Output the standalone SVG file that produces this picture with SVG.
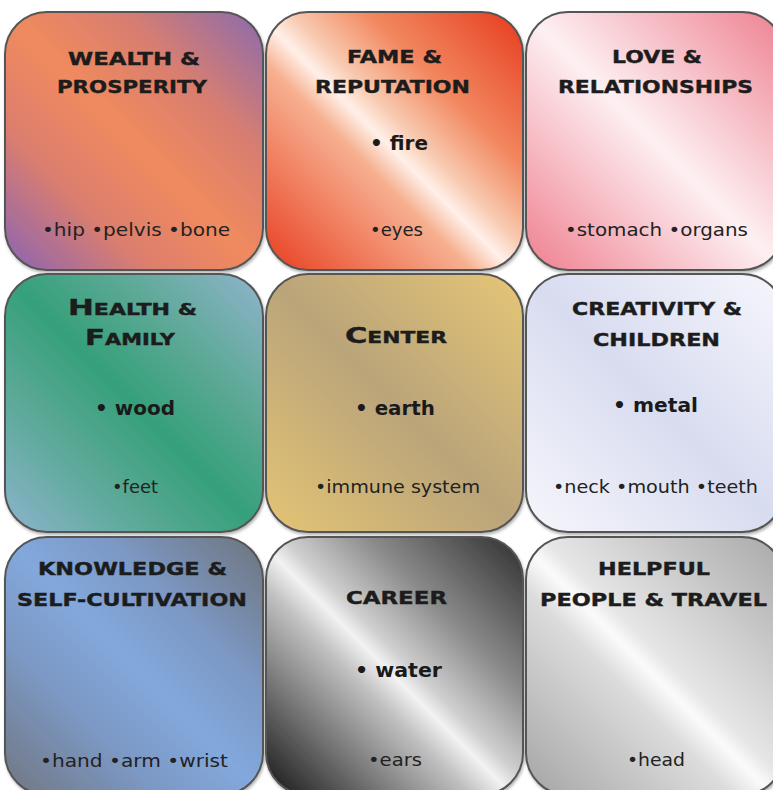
<svg xmlns="http://www.w3.org/2000/svg" width="773" height="790" viewBox="0 0 773 790">
<defs>
<linearGradient id="gWealth" x1="1" y1="0" x2="0" y2="1"><stop offset="0" stop-color="#8a6aae"/><stop offset="0.28" stop-color="#d87e70"/><stop offset="0.5" stop-color="#f08a5e"/><stop offset="0.72" stop-color="#dc7e6e"/><stop offset="1" stop-color="#8a64b4"/></linearGradient>
<linearGradient id="gFame" x1="1" y1="0" x2="0" y2="1"><stop offset="0" stop-color="#e63a1e"/><stop offset="0.3" stop-color="#f2875e"/><stop offset="0.45" stop-color="#f8c8ae"/><stop offset="0.52" stop-color="#fff0e8"/><stop offset="0.6" stop-color="#f6b090"/><stop offset="1" stop-color="#e83e20"/></linearGradient>
<linearGradient id="gLove" x1="1" y1="0" x2="0" y2="1"><stop offset="0" stop-color="#ee8090"/><stop offset="0.5" stop-color="#fdf0f2"/><stop offset="1" stop-color="#ef7f8f"/></linearGradient>
<linearGradient id="gHealth" x1="1" y1="0" x2="0" y2="1"><stop offset="0" stop-color="#90b4cc"/><stop offset="0.3" stop-color="#5aa894"/><stop offset="0.5" stop-color="#35a07a"/><stop offset="0.7" stop-color="#58a894"/><stop offset="1" stop-color="#8cb4cc"/></linearGradient>
<linearGradient id="gCenter" x1="1" y1="0" x2="0" y2="1"><stop offset="0" stop-color="#e6c676"/><stop offset="0.5" stop-color="#baa47a"/><stop offset="1" stop-color="#e4c474"/></linearGradient>
<linearGradient id="gCreat" x1="1" y1="0" x2="0" y2="1"><stop offset="0" stop-color="#f6f6fc"/><stop offset="0.5" stop-color="#d8dcf0"/><stop offset="1" stop-color="#f6f6fb"/></linearGradient>
<linearGradient id="gKnow" x1="1" y1="0" x2="0" y2="1"><stop offset="0" stop-color="#6e737c"/><stop offset="0.3" stop-color="#7c98c4"/><stop offset="0.5" stop-color="#82a8dc"/><stop offset="0.7" stop-color="#7c98c4"/><stop offset="1" stop-color="#707680"/></linearGradient>
<linearGradient id="gCareer" x1="1" y1="0" x2="0" y2="1"><stop offset="0" stop-color="#2e2e2e"/><stop offset="0.3" stop-color="#8a8a8a"/><stop offset="0.47" stop-color="#cfcfcf"/><stop offset="0.52" stop-color="#f2f2f2"/><stop offset="0.6" stop-color="#c0c0c0"/><stop offset="1" stop-color="#141414"/></linearGradient>
<linearGradient id="gHelp" x1="1" y1="0" x2="0" y2="1"><stop offset="0" stop-color="#a8a8a8"/><stop offset="0.47" stop-color="#e6e6e6"/><stop offset="0.52" stop-color="#fbfbfb"/><stop offset="0.6" stop-color="#dcdcdc"/><stop offset="1" stop-color="#a4a4a4"/></linearGradient>
<filter id="sh" x="-5%" y="-5%" width="110%" height="110%"><feDropShadow dx="1" dy="2" stdDeviation="1.5" flood-color="#000" flood-opacity="0.3"/></filter>
</defs>
<style>
.box{stroke:#555;stroke-width:2;filter:url(#sh)}
.h{font-family:"DejaVu Sans",sans-serif;font-weight:bold;font-size:18px;fill:#1c1c1c;stroke:#1c1c1c;stroke-width:0.4;text-anchor:middle}
.big{font-size:21px}
.sm{font-size:15px}
.e{font-family:"DejaVu Sans",sans-serif;font-weight:bold;font-size:20px;fill:#1a1a1a;text-anchor:middle}
.b{font-family:"DejaVu Sans",sans-serif;font-size:18px;fill:#222;text-anchor:middle}
</style>
<rect width="773" height="790" fill="#fff"/>

<g id="wealth">
<rect class="box" x="5" y="12" width="258" height="258" rx="42" fill="url(#gWealth)"/>
<text class="h" x="134" y="65" textLength="132" lengthAdjust="spacingAndGlyphs">WEALTH &amp;</text>
<text class="h" x="132" y="93" textLength="150" lengthAdjust="spacingAndGlyphs">PROSPERITY</text>
<text class="b" x="136" y="236" textLength="188" lengthAdjust="spacingAndGlyphs">•hip •pelvis •bone</text>
</g>

<g id="fame">
<rect class="box" x="266" y="12" width="257" height="258" rx="42" fill="url(#gFame)"/>
<text class="h" x="394.5" y="63" textLength="95" lengthAdjust="spacingAndGlyphs">FAME &amp;</text>
<text class="h" x="392.5" y="93" textLength="155" lengthAdjust="spacingAndGlyphs">REPUTATION</text>
<text class="e" x="399" y="150" textLength="58" lengthAdjust="spacingAndGlyphs">• fire</text>
<text class="b" x="396.5" y="236" textLength="53" lengthAdjust="spacingAndGlyphs">•eyes</text>
</g>

<g id="love">
<rect class="box" x="526" y="12" width="258" height="258" rx="42" fill="url(#gLove)"/>
<text class="h" x="657" y="63" textLength="90" lengthAdjust="spacingAndGlyphs">LOVE &amp;</text>
<text class="h" x="655.5" y="93" textLength="195" lengthAdjust="spacingAndGlyphs">RELATIONSHIPS</text>
<text class="b" x="656.5" y="236" textLength="183" lengthAdjust="spacingAndGlyphs">•stomach •organs</text>
</g>

<g id="health">
<rect class="box" x="5" y="274" width="258" height="258" rx="42" fill="url(#gHealth)"/>
<text class="h" x="132.5" y="315" textLength="129" lengthAdjust="spacingAndGlyphs"><tspan class="big">H</tspan><tspan class="sm">EALTH &amp;</tspan></text>
<text class="h" x="130" y="345" textLength="90" lengthAdjust="spacingAndGlyphs"><tspan class="big">F</tspan><tspan class="sm">AMILY</tspan></text>
<text class="e" x="135" y="415" textLength="80" lengthAdjust="spacingAndGlyphs">• wood</text>
<text class="b" x="135" y="493" textLength="46" lengthAdjust="spacingAndGlyphs">•feet</text>
</g>

<g id="center">
<rect class="box" x="266" y="274" width="257" height="258" rx="42" fill="url(#gCenter)"/>
<text class="h" x="396" y="343" textLength="102" lengthAdjust="spacingAndGlyphs"><tspan class="big">C</tspan><tspan class="sm">ENTER</tspan></text>
<text class="e" x="395" y="415" textLength="80" lengthAdjust="spacingAndGlyphs">• earth</text>
<text class="b" x="397.5" y="493" textLength="165" lengthAdjust="spacingAndGlyphs">•immune system</text>
</g>

<g id="creativity">
<rect class="box" x="526" y="274" width="258" height="258" rx="42" fill="url(#gCreat)"/>
<text class="h" x="657" y="315" textLength="170" lengthAdjust="spacingAndGlyphs">CREATIVITY &amp;</text>
<text class="h" x="656.5" y="346" textLength="127" lengthAdjust="spacingAndGlyphs">CHILDREN</text>
<text class="e" x="655.5" y="412" textLength="85" lengthAdjust="spacingAndGlyphs">• metal</text>
<text class="b" x="655.5" y="493" textLength="205" lengthAdjust="spacingAndGlyphs">•neck •mouth •teeth</text>
</g>

<g id="knowledge">
<rect class="box" x="5" y="537" width="258" height="258" rx="42" fill="url(#gKnow)"/>
<text class="h" x="132.5" y="575" textLength="189" lengthAdjust="spacingAndGlyphs">KNOWLEDGE &amp;</text>
<text class="h" x="132" y="606" textLength="230" lengthAdjust="spacingAndGlyphs">SELF-CULTIVATION</text>
<text class="b" x="134" y="767" textLength="188" lengthAdjust="spacingAndGlyphs">•hand •arm •wrist</text>
</g>

<g id="career">
<rect class="box" x="266" y="537" width="257" height="258" rx="42" fill="url(#gCareer)"/>
<text class="h" x="396.5" y="604" textLength="101" lengthAdjust="spacingAndGlyphs">CAREER</text>
<text class="e" x="398.5" y="677" textLength="87" lengthAdjust="spacingAndGlyphs">• water</text>
<text class="b" x="395" y="766" textLength="54" lengthAdjust="spacingAndGlyphs">•ears</text>
</g>

<g id="helpful">
<rect class="box" x="526" y="537" width="258" height="258" rx="42" fill="url(#gHelp)"/>
<text class="h" x="654" y="575" textLength="112" lengthAdjust="spacingAndGlyphs">HELPFUL</text>
<text class="h" x="653.5" y="606" textLength="227" lengthAdjust="spacingAndGlyphs">PEOPLE &amp; TRAVEL</text>
<text class="b" x="656" y="766" textLength="58" lengthAdjust="spacingAndGlyphs">•head</text>
</g>

<g id="connectors"/>
</svg>
